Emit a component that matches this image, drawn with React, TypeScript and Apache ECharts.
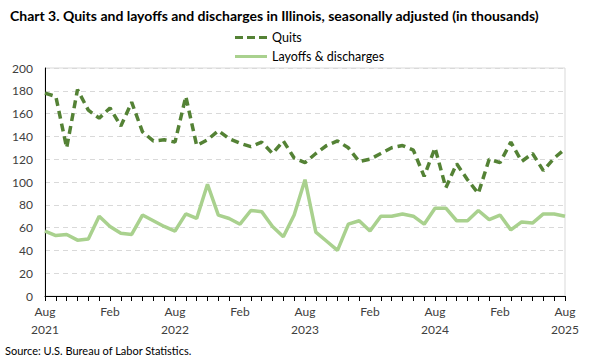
import React, { useEffect, useRef } from "react";
import * as echarts from "echarts";

const months = [
  "Aug 2021","Sep 2021","Oct 2021","Nov 2021","Dec 2021",
  "Jan 2022","Feb 2022","Mar 2022","Apr 2022","May 2022","Jun 2022","Jul 2022","Aug 2022","Sep 2022","Oct 2022","Nov 2022","Dec 2022",
  "Jan 2023","Feb 2023","Mar 2023","Apr 2023","May 2023","Jun 2023","Jul 2023","Aug 2023","Sep 2023","Oct 2023","Nov 2023","Dec 2023",
  "Jan 2024","Feb 2024","Mar 2024","Apr 2024","May 2024","Jun 2024","Jul 2024","Aug 2024","Sep 2024","Oct 2024","Nov 2024","Dec 2024",
  "Jan 2025","Feb 2025","Mar 2025","Apr 2025","May 2025","Jun 2025","Jul 2025","Aug 2025",
];

const quits = [
  178, 175, 130, 181, 163,
  156, 165, 149, 170, 144, 136, 137, 135, 175, 132, 137, 145,
  138, 134, 131, 135, 125, 136, 121, 117, 125, 132, 136, 130,
  118, 120, 125, 130, 132, 128, 105, 130, 95, 116, 102, 90,
  120, 117, 135, 118, 125, 110, 121, 129,
];

const layoffs = [
  57, 53, 54, 49, 50,
  70, 61, 55, 54, 71, 66, 61, 57, 72, 68, 98, 71,
  68, 63, 75, 74, 61, 52, 71, 102, 56, 48, 40, 63,
  66, 57, 70, 70, 72, 70, 63, 77, 77, 66, 66, 75,
  67, 71, 58, 65, 64, 72, 72, 70,
];

const xLabel = (v: string) => {
  const [m, y] = v.split(" ");
  if (m === "Aug") return m + "\n" + y;
  return m;
};

const FONT = "Lato";
const DASH_ICON = "path://M0,0h8v3h-8z M12,0h8v3h-8z M24,0h8v3h-8z";
const SOLID_ICON = "path://M0,0h32v3h-32z";

export default function App() {
  const ref = useRef<HTMLDivElement>(null);
  useEffect(() => {
    if (!ref.current) return;
    const chart = echarts.init(ref.current, undefined, { renderer: "svg" });
    chart.setOption({
      animation: false,
      textStyle: { fontFamily: FONT },
      title: {
        text: "Chart 3. Quits and layoffs and discharges in Illinois, seasonally adjusted (in thousands)",
        left: 5,
        top: 3,
        textStyle: { fontSize: 14, fontWeight: "bold", color: "#000", fontFamily: FONT },
      },
      graphic: [
        {
          type: "text",
          left: 5,
          top: 345,
          style: { text: "Source: U.S. Bureau of Labor Statistics.", fontSize: 11, fill: "#000", fontFamily: FONT },
        },
      ],
      legend: {
        orient: "vertical",
        left: 230,
        top: 29,
        padding: [2, 5],
        itemWidth: 32,
        itemHeight: 3,
        itemGap: 6,
        textStyle: { fontSize: 12.5, color: "#000", fontFamily: FONT },
        data: [
          { name: "Quits", icon: DASH_ICON, itemStyle: { color: "#548235" } },
          { name: "Layoffs & discharges", icon: SOLID_ICON, itemStyle: { color: "#a9d18e" } },
        ],
      },
      grid: {
        left: 45,
        right: 35,
        top: 68,
        bottom: 64,
        show: true,
        borderColor: "#d9d9d9",
        borderWidth: 1,
        containLabel: false,
      },
      xAxis: {
        type: "category",
        data: months,
        boundaryGap: false,
        axisLine: { lineStyle: { color: "#000", width: 1 } },
        axisTick: { show: true, interval: 0, length: 5, lineStyle: { color: "#000" } },
        axisLabel: {
          interval: 5,
          formatter: xLabel,
          fontSize: 12,
          color: "#404040",
          lineHeight: 18,
          margin: 6,
          fontFamily: FONT,
        },
        splitLine: { show: false },
      },
      yAxis: {
        type: "value",
        min: 0,
        max: 200,
        interval: 20,
        axisLine: { show: true, lineStyle: { color: "#000", width: 1 } },
        axisTick: { show: false },
        axisLabel: { fontSize: 12, color: "#404040", margin: 12, fontFamily: FONT },
        splitLine: { show: true, lineStyle: { color: "#d9d9d9", type: [5, 4], width: 1 } },
      },
      series: [
        {
          name: "Quits",
          type: "line",
          data: quits,
          symbol: "none",
          lineStyle: { color: "#548235", width: 3.5, type: [8, 5] },
          itemStyle: { color: "#548235" },
          z: 3,
        },
        {
          name: "Layoffs & discharges",
          type: "line",
          data: layoffs,
          symbol: "none",
          lineStyle: { color: "#a9d18e", width: 3.5 },
          itemStyle: { color: "#a9d18e" },
          z: 2,
        },
      ],
    });
    return () => chart.dispose();
  }, []);
  return (
    <div
      ref={ref}
      style={{ position: "fixed", left: 0, top: 0, width: 600, height: 360, background: "#fff" }}
    />
  );
}
